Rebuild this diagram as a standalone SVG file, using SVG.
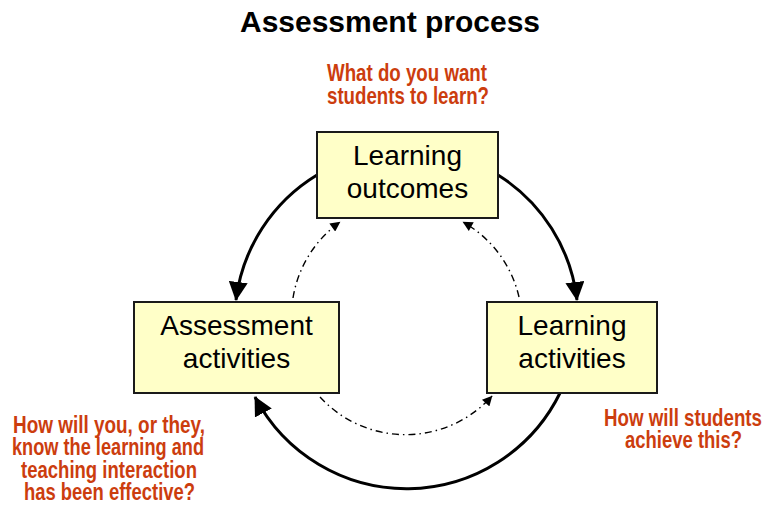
<svg xmlns="http://www.w3.org/2000/svg" width="767" height="508" viewBox="0 0 767 508">
<style>
.box{fill:#FFFFC8;stroke:#1a1a1a;stroke-width:2}
.bt{font-family:"Liberation Sans",Arial,sans-serif;font-size:28px;fill:#000;text-anchor:middle}
.q{font-family:"Liberation Sans",Arial,sans-serif;font-size:24px;font-weight:bold;fill:#CC3D0E;text-anchor:middle}
.title{font-family:"Liberation Sans",Arial,sans-serif;font-size:29px;font-weight:bold;fill:#000;text-anchor:middle}
.outer{fill:none;stroke:#000;stroke-width:3;marker-end:url(#big)}
.inner{fill:none;stroke:#000;stroke-width:1.4;stroke-dasharray:7 4 1.5 4;marker-end:url(#small)}
</style>
<defs>
<marker id="big" viewBox="0 0 20 20" refX="19" refY="10" markerUnits="userSpaceOnUse" markerWidth="19" markerHeight="19" orient="auto">
<path d="M0,0 L20,10 L0,20 z" fill="#000"/>
</marker>
<marker id="small" viewBox="0 0 10 10" refX="9.5" refY="5" markerUnits="userSpaceOnUse" markerWidth="11" markerHeight="10" orient="auto">
<path d="M0,0 L10,5 L0,10 z" fill="#000"/>
</marker>
</defs>
<rect width="767" height="508" fill="#fff"/>
<text class="title" x="390" y="32" textLength="300" lengthAdjust="spacingAndGlyphs">Assessment process</text>
<g id="connectors">
<path class="outer" d="M317,175 A171,171 0 0 0 236,300"/>
<path class="outer" d="M498,175 A171,171 0 0 1 577,300"/>
<path class="outer" d="M560,393 A171,171 0 0 1 255,397"/>
<path class="inner" d="M293,298 A116,116 0 0 1 340,222"/>
<path class="inner" d="M519,297 A116,116 0 0 0 463,222"/>
<path class="inner" d="M320,397 A116,116 0 0 0 492,396"/>
</g>
<g id="learning-outcomes">
<rect class="box" x="317" y="132" width="181" height="86"/>
<text class="bt" x="407.5" y="165">Learning</text>
<text class="bt" x="407.5" y="198">outcomes</text>
</g>
<g id="assessment-activities">
<rect class="box" x="134" y="302" width="205" height="91"/>
<text class="bt" x="236.5" y="335">Assessment</text>
<text class="bt" x="236.5" y="368">activities</text>
</g>
<g id="learning-activities">
<rect class="box" x="487" y="302" width="170" height="91"/>
<text class="bt" x="572" y="335">Learning</text>
<text class="bt" x="572" y="368">activities</text>
</g>
<g id="q-outcomes">
<text class="q" x="407" y="81" textLength="160" lengthAdjust="spacingAndGlyphs">What do you want</text>
<text class="q" x="408" y="104" textLength="162" lengthAdjust="spacingAndGlyphs">students to learn?</text>
</g>
<g id="q-assessment">
<text class="q" x="109" y="433" textLength="192" lengthAdjust="spacingAndGlyphs">How will you, or they,</text>
<text class="q" x="108" y="455" textLength="192" lengthAdjust="spacingAndGlyphs">know the learning and</text>
<text class="q" x="109" y="478" textLength="176" lengthAdjust="spacingAndGlyphs">teaching interaction</text>
<text class="q" x="109.5" y="500" textLength="171" lengthAdjust="spacingAndGlyphs">has been effective?</text>
</g>
<g id="q-activities">
<text class="q" x="683" y="426" textLength="158" lengthAdjust="spacingAndGlyphs">How will students</text>
<text class="q" x="683.5" y="448" textLength="117" lengthAdjust="spacingAndGlyphs">achieve this?</text>
</g>
</svg>
